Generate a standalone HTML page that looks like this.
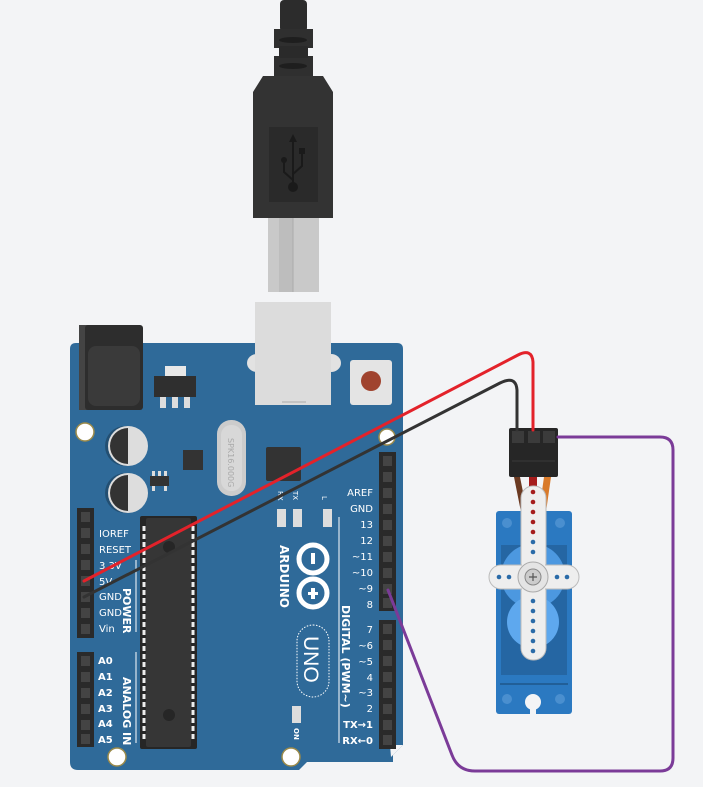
<!DOCTYPE html>
<html><head><meta charset="utf-8"><style>
html,body{margin:0;padding:0;background:#f3f4f6}
svg{display:block}
text{font-family:"DejaVu Sans","Liberation Sans",sans-serif;fill:#fff;font-size:10px}
</style></head><body>
<svg width="703" height="787" viewBox="0 0 703 787" xmlns="http://www.w3.org/2000/svg">
<rect width="703" height="787" fill="#f3f4f6"/>
<!-- USB cable -->
<rect x="280" y="0" width="27" height="32" rx="4" fill="#2c2c2c"/>
<rect x="274" y="29" width="39" height="19" fill="#2f2f2f"/>
<rect x="274" y="56" width="39" height="20" fill="#2f2f2f"/>
<rect x="279" y="46" width="29" height="12" fill="#2a2a2a"/>
<ellipse cx="293" cy="40" rx="14" ry="3" fill="#1e1e1e"/>
<ellipse cx="293" cy="66" rx="14" ry="3" fill="#1e1e1e"/>
<path d="M263,76 L323,76 L333,92 L333,218 L253,218 L253,92 Z" fill="#333"/>
<rect x="269" y="127" width="49" height="75" fill="#2a2a2a"/>
<g stroke="#1a1a1a" stroke-width="2" fill="none">
<line x1="293" y1="140" x2="293" y2="186"/>
<path d="M284,162 L284,172 L293,180"/><path d="M302,154 L302,166 L293,174"/>
</g>
<path d="M293,134 L289,142 L297,142 Z" fill="#1a1a1a"/>
<circle cx="284" cy="160" r="3" fill="#1a1a1a"/><rect x="299" y="148" width="6" height="6" fill="#1a1a1a"/>
<circle cx="293" cy="187" r="5" fill="#1a1a1a"/>
<rect x="268" y="218" width="51" height="74" fill="#c9c9c9"/>
<rect x="279" y="218" width="14" height="74" fill="#bdbdbd"/>
<line x1="293" y1="218" x2="293" y2="292" stroke="#aaa"/>
<!-- Board -->
<path d="M76,343 L397,343 Q403,343 403,349 L403,745 L393,755 L393,762 L307,762 L299,770 L78,770 Q70,770 70,762 L70,349 Q70,343 76,343 Z" fill="#2f6a99"/>
<path d="M390,745 L403,745 L391,757 Z" fill="#f3f4f6"/>
<!-- power jack -->
<rect x="79" y="325" width="12" height="85" fill="#444"/>
<rect x="85" y="325" width="58" height="85" rx="3" fill="#2d2d2d"/>
<rect x="88" y="346" width="52" height="60" rx="8" fill="#3a3a3a"/>
<!-- USB port -->
<ellipse cx="257" cy="363" rx="10" ry="9" fill="#e2e2e2"/><ellipse cx="331" cy="363" rx="10" ry="9" fill="#e2e2e2"/>
<rect x="255" y="302" width="76" height="103" fill="#dcdcdc"/>
<line x1="282" y1="402" x2="306" y2="402" stroke="#aaa"/>
<!-- reset -->
<rect x="350" y="360" width="42" height="45" rx="3" fill="#e4e4e4"/>
<circle cx="371" cy="381" r="10" fill="#a0432e"/>
<!-- regulator -->
<rect x="165" y="366" width="21" height="11" fill="#e8e8e8"/>
<rect x="154" y="376" width="42" height="21" fill="#2f2f2f"/>
<rect x="160" y="397" width="6" height="11" fill="#ddd"/><rect x="172" y="397" width="6" height="11" fill="#ddd"/><rect x="184" y="397" width="6" height="11" fill="#ddd"/>
<!-- holes -->
<g fill="#fff" stroke="#9b8a4a" stroke-width="1.5">
<circle cx="85" cy="432" r="9"/><circle cx="387" cy="437" r="8"/><circle cx="117" cy="757" r="9"/><circle cx="291" cy="757" r="9"/>
</g>
<!-- caps -->
<circle cx="125" cy="446" r="20" fill="#234f72"/><circle cx="128" cy="446" r="20" fill="#ddd"/><path d="M128,428 A18,18 0 0 0 128,464 Z" fill="#333"/>
<circle cx="125" cy="493" r="20" fill="#234f72"/><circle cx="128" cy="493" r="20" fill="#ddd"/><path d="M128,475 A18,18 0 0 0 128,511 Z" fill="#333"/>
<rect x="183" y="450" width="20" height="20" fill="#333"/>
<rect x="150" y="476" width="19" height="10" fill="#333"/>
<g fill="#ddd"><rect x="152" y="471" width="3" height="5"/><rect x="158" y="471" width="3" height="5"/><rect x="164" y="471" width="3" height="5"/><rect x="152" y="486" width="3" height="5"/><rect x="164" y="486" width="3" height="5"/></g>
<!-- crystal -->
<rect x="217" y="420" width="29" height="76" rx="14" fill="#ccc"/>
<rect x="221" y="425" width="21" height="66" rx="10" fill="#d8d8d8"/>
<text transform="translate(228,438) rotate(90)" style="fill:#aaa;font-size:8px">SPK16.000G</text>
<rect x="266" y="447" width="35" height="34" rx="2" fill="#333"/>
<!-- LEDs -->
<text transform="translate(278,491) rotate(90)" style="font-size:7px">RX</text>
<text transform="translate(293,491) rotate(90)" style="font-size:7px">TX</text>
<text transform="translate(322,496) rotate(90)" style="font-size:7px">L</text>
<g fill="#ddd"><rect x="277" y="509" width="9" height="18"/><rect x="293" y="509" width="9" height="18"/><rect x="323" y="509" width="9" height="18"/><rect x="292" y="706" width="9" height="17"/></g>
<text transform="translate(294,728) rotate(90)" style="font-size:7px;font-weight:bold">ON</text>
<!-- logo -->
<text transform="translate(280,545) rotate(90)" style="font-size:12px;font-weight:bold">ARDUINO</text>
<circle cx="313" cy="559" r="14" fill="none" stroke="#fff" stroke-width="5"/>
<circle cx="313" cy="593" r="14" fill="none" stroke="#fff" stroke-width="5"/>
<rect x="311" y="553" width="4" height="11" fill="#fff"/>
<rect x="311" y="588" width="4" height="11" fill="#fff"/><rect x="308" y="592" width="10" height="3" fill="#fff"/>
<rect x="297" y="625" width="32" height="72" rx="16" fill="none" stroke="#fff" stroke-width="1" stroke-dasharray="1.5,1.5"/>
<text transform="translate(304,636) rotate(90)" style="font-size:21px;font-family:'Liberation Sans',sans-serif">UNO</text>
<line x1="339" y1="517" x2="339" y2="743" stroke="#fff" stroke-width="1"/>
<text transform="translate(342,605) rotate(90)" style="font-size:11px;font-weight:bold">DIGITAL (PWM~)</text>
<!-- digital labels -->
<g text-anchor="end" style="font-size:10px">
<text x="373" y="496">AREF</text><text x="373" y="512">GND</text><text x="373" y="528">13</text><text x="373" y="544">12</text><text x="373" y="560">~11</text><text x="373" y="576">~10</text><text x="373" y="592">~9</text><text x="373" y="608">8</text>
<text x="373" y="633">7</text><text x="373" y="649">~6</text><text x="373" y="665">~5</text><text x="373" y="681">4</text><text x="373" y="696">~3</text><text x="373" y="712">2</text><text x="373" y="728" style="font-weight:bold">TX→1</text><text x="373" y="744" style="font-weight:bold">RX←0</text>
</g>
<!-- headers -->
<rect x="379" y="452" width="17" height="159" fill="#2a2a2a"/>
<rect x="379" y="620" width="17" height="129" fill="#2a2a2a"/>
<rect x="77" y="508" width="17" height="130" fill="#2a2a2a"/>
<rect x="77" y="652" width="17" height="95" fill="#2a2a2a"/>
<g fill="#444">
<rect x="383" y="456" width="9" height="10"/><rect x="383" y="472" width="9" height="10"/><rect x="383" y="488" width="9" height="10"/><rect x="383" y="504" width="9" height="10"/><rect x="383" y="520" width="9" height="10"/><rect x="383" y="536" width="9" height="10"/><rect x="383" y="552" width="9" height="10"/><rect x="383" y="568" width="9" height="10"/><rect x="383" y="584" width="9" height="10"/><rect x="383" y="598" width="9" height="10"/>
<rect x="383" y="624" width="9" height="10"/><rect x="383" y="640" width="9" height="10"/><rect x="383" y="656" width="9" height="10"/><rect x="383" y="672" width="9" height="10"/><rect x="383" y="688" width="9" height="10"/><rect x="383" y="704" width="9" height="10"/><rect x="383" y="720" width="9" height="10"/><rect x="383" y="735" width="9" height="10"/>
<rect x="81" y="512" width="9" height="10"/><rect x="81" y="528" width="9" height="10"/><rect x="81" y="544" width="9" height="10"/><rect x="81" y="560" width="9" height="10"/><rect x="81" y="576" width="9" height="10"/><rect x="81" y="592" width="9" height="10"/><rect x="81" y="608" width="9" height="10"/><rect x="81" y="624" width="9" height="10"/>
<rect x="81" y="656" width="9" height="10"/><rect x="81" y="672" width="9" height="10"/><rect x="81" y="688" width="9" height="10"/><rect x="81" y="704" width="9" height="10"/><rect x="81" y="720" width="9" height="10"/><rect x="81" y="734" width="9" height="10"/>
</g>
<!-- power labels -->
<g style="font-size:9px">
<text x="99" y="537">IOREF</text><text x="99" y="553">RESET</text><text x="99" y="569">3.3V</text><text x="99" y="585">5V</text><text x="99" y="600">GND</text><text x="99" y="616">GND</text><text x="99" y="632">Vin</text>
</g>
<g style="font-size:10px;font-weight:bold">
<text x="98" y="664">A0</text><text x="98" y="680">A1</text><text x="98" y="696">A2</text><text x="98" y="712">A3</text><text x="98" y="727">A4</text><text x="98" y="743">A5</text>
</g>
<line x1="136" y1="560" x2="136" y2="632" stroke="#fff"/>
<line x1="136" y1="652" x2="136" y2="743" stroke="#fff"/>
<text transform="translate(123,588) rotate(90)" style="font-size:11px;font-weight:bold">POWER</text>
<text transform="translate(123,677) rotate(90)" style="font-size:11px;font-weight:bold">ANALOG IN</text>
<!-- big chip -->
<rect x="140" y="516" width="57" height="233" rx="2" fill="#262626"/>
<rect x="146" y="518" width="45" height="229" rx="2" fill="#363636"/>
<g stroke="#eee" stroke-width="3" stroke-dasharray="5,3"><line x1="144" y1="526" x2="144" y2="740"/><line x1="193" y1="526" x2="193" y2="740"/></g>
<circle cx="169" cy="547" r="6" fill="#262626"/><circle cx="169" cy="715" r="6" fill="#262626"/>
<!-- servo -->
<path d="M514,477 L520,477 L527,512 L521,512 Z" fill="#6b3a22"/>
<rect x="529" y="477" width="8" height="35" fill="#a51c1c"/>
<path d="M544,477 L551,477 L546,512 L539,512 Z" fill="#d97a2a"/>
<rect x="496" y="511" width="76" height="203" rx="3" fill="#2b79c1"/>
<rect x="501" y="545" width="66" height="130" fill="#2566a3"/>
<circle cx="533" cy="576" r="32" fill="#4c98e0"/><circle cx="533" cy="622" r="26" fill="#5ea8ee"/>
<g fill="#4a8fcf"><circle cx="507" cy="523" r="5"/><circle cx="560" cy="523" r="5"/><circle cx="507" cy="699" r="5"/><circle cx="560" cy="699" r="5"/></g>
<rect x="500" y="683" width="68" height="2" fill="#215f98"/>
<circle cx="533" cy="702" r="8" fill="#f3f4f6"/><rect x="530" y="702" width="6" height="12" fill="#f3f4f6"/>
<rect x="521" y="486" width="25" height="174" rx="12" fill="#eee" stroke="#bbb"/>
<rect x="489" y="565" width="90" height="24" rx="12" fill="#eee" stroke="#bbb"/>
<rect x="522" y="487" width="23" height="172" rx="11" fill="#eee"/>
<circle cx="533" cy="577" r="15" fill="#e4e4e4" stroke="#aaa"/>
<circle cx="533" cy="577" r="8" fill="#ccc" stroke="#888"/>
<path d="M529,577 H537 M533,573 V581" stroke="#555" stroke-width="1.2"/>
<g fill="#a51c1c"><circle cx="533" cy="492" r="2.3"/><circle cx="533" cy="502" r="2.3"/><circle cx="533" cy="512" r="2.3"/><circle cx="533" cy="522" r="2.3"/><circle cx="533" cy="532" r="2.3"/></g>
<g fill="#2a6ba8"><circle cx="533" cy="542" r="2.3"/><circle cx="533" cy="601" r="2.3"/><circle cx="533" cy="611" r="2.3"/><circle cx="533" cy="621" r="2.3"/><circle cx="533" cy="631" r="2.3"/><circle cx="533" cy="641" r="2.3"/><circle cx="533" cy="651" r="2.3"/><circle cx="499" cy="577" r="2.3"/><circle cx="567" cy="577" r="2.3"/><circle cx="509" cy="577" r="2.3"/><circle cx="557" cy="577" r="2.3"/><circle cx="533" cy="552" r="2.3"/></g>
<!-- connector -->
<rect x="509" y="428" width="49" height="49" rx="2" fill="#262626"/>
<g fill="#3b3b3b"><rect x="512" y="431" width="12" height="12"/><rect x="528" y="431" width="12" height="12"/><rect x="543" y="431" width="12" height="12"/></g>
<line x1="512" y1="461" x2="555" y2="461" stroke="#3b3b3b"/>
<!-- wires -->
<g fill="none" stroke-linejoin="round" stroke-linecap="round">
<path d="M84,581 L518,355 Q532,348 533,362 L533,430" stroke="#e3222a" stroke-width="3"/>
<path d="M84,597 L500,383 Q516,375 517,390 L517,430" stroke="#333" stroke-width="3"/>
<path d="M388,590 L452,755 Q458,771 475,771 L660,771 Q673,771 673,758 L673,450 Q673,437 660,437 L558,437" stroke="#7b3b98" stroke-width="3"/>
</g>
</svg>
</body></html>
